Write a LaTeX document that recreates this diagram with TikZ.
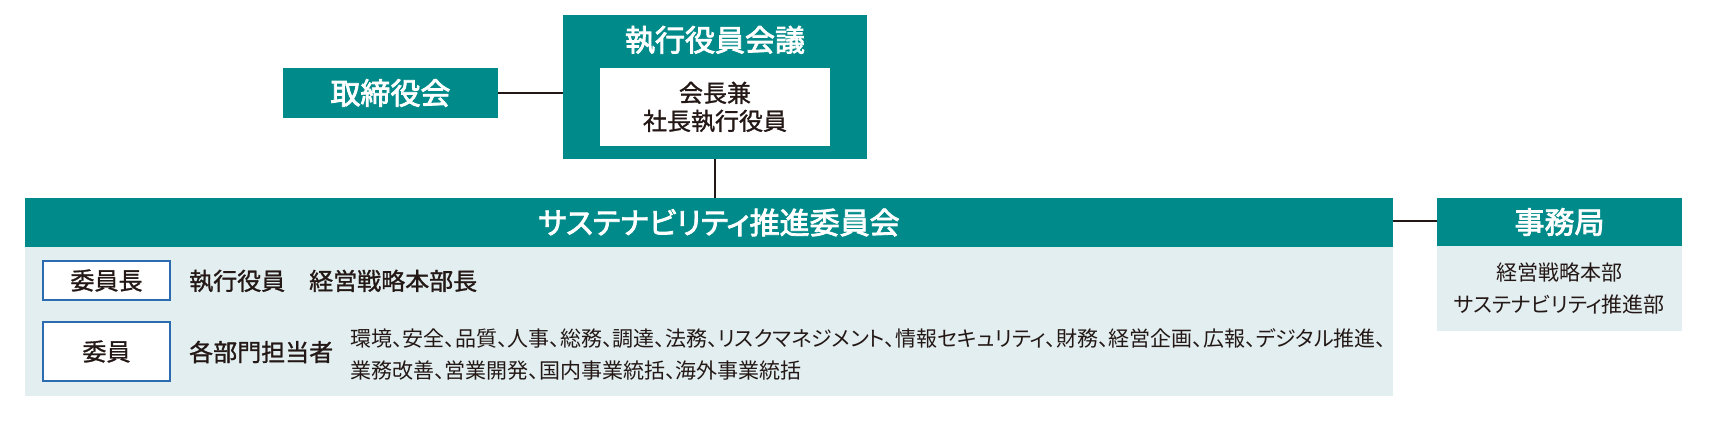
\documentclass[tikz,border=0pt]{standalone}
\usepackage{fontspec}
\setmainfont{Noto Sans CJK JP}[RawFeature={+palt}]
\newfontfamily\jpmed{Noto Sans CJK JP}[RawFeature={+palt}, FakeBold=1.2]
\newfontfamily\jptitle{Noto Sans CJK JP}[RawFeature={+palt}, FakeBold=2.6]
\definecolor{teal1}{HTML}{008B8A}
\definecolor{pale}{HTML}{E3EEF0}
\definecolor{rolebd}{HTML}{2B6CB0}
\definecolor{ink}{HTML}{231815}
\tikzset{
  titlefont/.style={font=\jptitle\fontsize{30}{34}\selectfont},
  tealbox/.style={fill=teal1, draw=none, inner sep=0pt, text=white, titlefont, align=center},
  palebox/.style={fill=pale, draw=none, inner sep=0pt},
  rolebox/.style={fill=white, draw=rolebd, line width=1.2pt, inner sep=0pt, text=ink, font=\jpmed\fontsize{24}{28}\selectfont},
  lbl/.style={inner sep=0pt, text=ink, anchor=west},
  conn/.style={draw=ink, line width=1.6pt},
}
\begin{document}
\begin{tikzpicture}[x=1pt,y=-1pt]
\useasboundingbox (0,0) rectangle (1711,431);
% board
\node[tealbox, minimum width=215pt, minimum height=50pt] (board) at (390.5,93) {取締役会};
% executive committee
\node[fill=teal1, inner sep=0pt, minimum width=304pt, minimum height=144pt] (exec) at (715,87) {};
\node[inner sep=0pt, text=white, titlefont] (exectitle) at (715,40) {執行役員会議};
\node[fill=white, inner sep=0pt, minimum width=230pt, minimum height=78pt, text=ink, align=center, font=\jpmed\fontsize{24}{28}\selectfont] (pres) at (715,107) {会長兼\\社長執行役員};
% sustainability committee
\node[tealbox, minimum width=1368pt, minimum height=49pt] (sc) at (709,222.5) {};
\node[inner sep=0pt, text=white, titlefont] (sctitle) at (719,222.5) {サステナビリティ推進委員会};
\node[palebox, minimum width=1368pt, minimum height=149pt] (scbody) at (709,321.5) {};
\node[rolebox, minimum width=127pt, minimum height=39pt] (chair) at (106.5,280.5) {委員長};
\node[rolebox, minimum width=127pt, minimum height=59pt] (member) at (106.5,351.5) {委員};
\node[lbl, font=\jpmed\fontsize{24}{28}\selectfont] (chairname) at (189,281) {執行役員\quad 経営戦略本部長};
\node[lbl, font=\jpmed\fontsize{24}{28}\selectfont] (membername) at (189,352) {各部門担当者};
\node[lbl, font=\fontsize{21}{24}\selectfont] (list1) at (350,338) {環境、安全、品質、人事、総務、調達、法務、リスクマネジメント、情報セキュリティ、財務、経営企画、広報、デジタル推進、};
\node[lbl, font=\fontsize{21}{24}\selectfont] (list2) at (350,371) {業務改善、営業開発、国内事業統括、海外事業統括};
% secretariat
\node[tealbox, minimum width=245pt, minimum height=48pt] (sec) at (1559.5,222) {事務局};
\node[palebox, minimum width=245pt, minimum height=85pt, text=ink, align=center, font=\fontsize{21}{32}\selectfont] (secbody) at (1559.5,288.5) {経営戦略本部\\サステナビリティ推進部};
% connectors
\draw[conn] (board.east) -- (board.east -| exec.west);
\draw[conn] (exec.south) -- (exec.south |- sc.north);
\draw[conn] (sc.east |- 0,221) -- (sec.west |- 0,221);
\end{tikzpicture}
\end{document}
